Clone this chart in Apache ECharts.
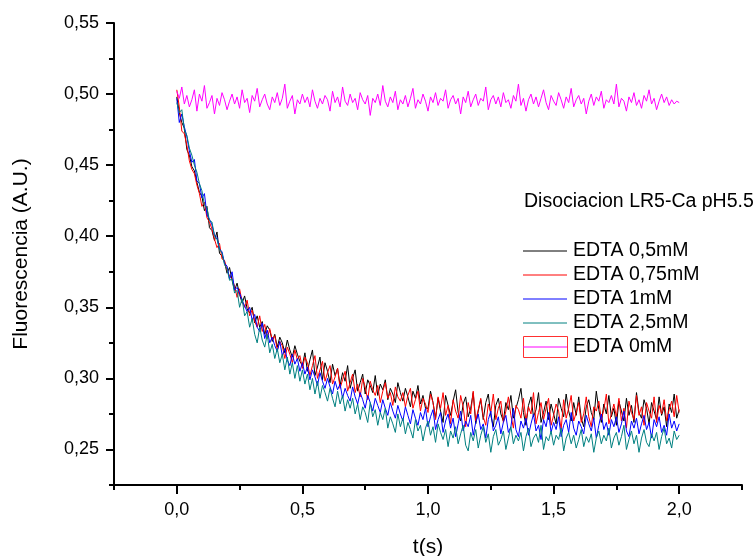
<!DOCTYPE html>
<html>
<head>
<meta charset="utf-8">
<script src="https://cdn.jsdelivr.net/npm/echarts@6/dist/echarts.min.js"></script>
<style>
  html, body { margin: 0; padding: 0; background: #ffffff; }
  #chart { width: 755px; height: 556px; }
</style>
</head>
<body>
<div id="chart"></div>
<script>
// Fluorescence traces sampled every TIME_STEP seconds, first sample at t = 0 s
const TIME_STEP = 0.01;

const seriesNames = ['EDTA 0,5mM', 'EDTA 0,75mM', 'EDTA 1mM', 'EDTA 2,5mM', 'EDTA 0mM'];
const seriesColors = ['#000000', '#ff0000', '#0000ff', '#008080', '#ff00ff'];

const edta05 = [
  0.498, 0.487, 0.480, 0.476, 0.461, 0.457, 0.449, 0.446, 0.438, 0.431,
  0.428, 0.418, 0.421, 0.406, 0.404, 0.397, 0.403, 0.388, 0.386, 0.382,
  0.374, 0.378, 0.369, 0.362, 0.367, 0.359, 0.353, 0.358, 0.349, 0.346,
  0.350, 0.339, 0.344, 0.336, 0.340, 0.331, 0.337, 0.334, 0.326, 0.331,
  0.322, 0.329, 0.325, 0.318, 0.327, 0.320, 0.315, 0.323, 0.317, 0.312,
  0.309, 0.318, 0.305, 0.313, 0.320, 0.302, 0.308, 0.315, 0.299, 0.311,
  0.305, 0.297, 0.310, 0.302, 0.307, 0.295, 0.304, 0.298, 0.309, 0.293,
  0.300, 0.306, 0.291, 0.297, 0.303, 0.289, 0.299, 0.295, 0.290, 0.302,
  0.288, 0.296, 0.292, 0.299, 0.285, 0.293, 0.289, 0.283, 0.297, 0.290,
  0.284, 0.293, 0.287, 0.280, 0.291, 0.286, 0.295, 0.282, 0.288, 0.279,
  0.279, 0.291, 0.283, 0.272, 0.286, 0.277, 0.269, 0.288, 0.281, 0.274,
  0.284, 0.292, 0.276, 0.270, 0.282, 0.287, 0.273, 0.279, 0.290, 0.268,
  0.277, 0.285, 0.271, 0.283, 0.289, 0.274, 0.266, 0.281, 0.286, 0.275,
  0.270, 0.283, 0.278, 0.288, 0.272, 0.279, 0.285, 0.293, 0.276, 0.267,
  0.281, 0.287, 0.273, 0.278, 0.290, 0.269, 0.276, 0.284, 0.271, 0.282,
  0.275, 0.268, 0.286, 0.279, 0.273, 0.289, 0.277, 0.270, 0.283, 0.274,
  0.287, 0.272, 0.266, 0.280, 0.285, 0.276, 0.271, 0.291, 0.278, 0.269,
  0.282, 0.275, 0.288, 0.273, 0.279, 0.267, 0.284, 0.277, 0.270, 0.286,
  0.274, 0.281, 0.269, 0.290, 0.276, 0.272, 0.285, 0.279, 0.268, 0.283,
  0.277, 0.271, 0.287, 0.274, 0.280, 0.266, 0.282, 0.276, 0.289, 0.272,
  0.278
];

const edta075 = [
  0.503, 0.491, 0.474, 0.472, 0.464, 0.453, 0.447, 0.444, 0.436, 0.430,
  0.421, 0.424, 0.413, 0.410, 0.405, 0.398, 0.392, 0.395, 0.384, 0.383,
  0.376, 0.372, 0.370, 0.365, 0.357, 0.363, 0.354, 0.350, 0.355, 0.344,
  0.348, 0.340, 0.336, 0.344, 0.333, 0.338, 0.328, 0.335, 0.327, 0.330,
  0.320, 0.326, 0.323, 0.314, 0.322, 0.317, 0.311, 0.320, 0.313, 0.316,
  0.307, 0.315, 0.311, 0.302, 0.309, 0.316, 0.300, 0.306, 0.312, 0.298,
  0.304, 0.309, 0.296, 0.301, 0.307, 0.293, 0.299, 0.305, 0.291, 0.297,
  0.303, 0.290, 0.296, 0.287, 0.300, 0.294, 0.285, 0.298, 0.292, 0.288,
  0.295, 0.283, 0.291, 0.297, 0.286, 0.290, 0.281, 0.294, 0.287, 0.284,
  0.290, 0.280, 0.288, 0.293, 0.279, 0.285, 0.291, 0.277, 0.286, 0.282,
  0.276, 0.289, 0.283, 0.271, 0.287, 0.279, 0.290, 0.274, 0.281, 0.268,
  0.285, 0.277, 0.272, 0.288, 0.280, 0.266, 0.283, 0.275, 0.291, 0.270,
  0.278, 0.286, 0.273, 0.267, 0.282, 0.276, 0.289, 0.271, 0.279, 0.284,
  0.269, 0.277, 0.287, 0.274, 0.265, 0.281, 0.278, 0.272, 0.286, 0.270,
  0.280, 0.275, 0.290, 0.268, 0.276, 0.283, 0.271, 0.279, 0.286, 0.267,
  0.274, 0.282, 0.277, 0.264, 0.285, 0.272, 0.279, 0.288, 0.270, 0.276,
  0.283, 0.269, 0.275, 0.287, 0.273, 0.266, 0.280, 0.277, 0.284, 0.271,
  0.278, 0.289, 0.268, 0.275, 0.282, 0.273, 0.286, 0.270, 0.279, 0.265,
  0.284, 0.276, 0.271, 0.288, 0.274, 0.280, 0.267, 0.283, 0.277, 0.272,
  0.287, 0.269, 0.281, 0.275, 0.285, 0.270, 0.278, 0.284, 0.273, 0.288,
  0.276
];

const edta1 = [
  0.497, 0.480, 0.486, 0.477, 0.470, 0.460, 0.452, 0.454, 0.439, 0.437,
  0.427, 0.430, 0.415, 0.412, 0.408, 0.401, 0.399, 0.391, 0.389, 0.381,
  0.379, 0.370, 0.375, 0.362, 0.364, 0.360, 0.355, 0.351, 0.347, 0.350,
  0.341, 0.345, 0.336, 0.333, 0.339, 0.328, 0.334, 0.325, 0.329, 0.323,
  0.319, 0.326, 0.316, 0.321, 0.313, 0.309, 0.317, 0.310, 0.314, 0.305,
  0.311, 0.303, 0.308, 0.299, 0.306, 0.301, 0.295, 0.304, 0.298, 0.293,
  0.300, 0.294, 0.289, 0.298, 0.292, 0.296, 0.286, 0.293, 0.288, 0.284,
  0.294, 0.287, 0.282, 0.290, 0.285, 0.279, 0.288, 0.283, 0.277, 0.286,
  0.281, 0.276, 0.285, 0.279, 0.274, 0.283, 0.277, 0.272, 0.281, 0.275,
  0.270, 0.280, 0.274, 0.268, 0.278, 0.272, 0.267, 0.276, 0.271, 0.279,
  0.266, 0.273, 0.278, 0.264, 0.271, 0.276, 0.262, 0.270, 0.275, 0.265,
  0.272, 0.259, 0.268, 0.277, 0.263, 0.270, 0.266, 0.274, 0.260, 0.269,
  0.275, 0.264, 0.268, 0.258, 0.271, 0.277, 0.263, 0.267, 0.273, 0.261,
  0.269, 0.274, 0.262, 0.266, 0.279, 0.264, 0.259, 0.270, 0.265, 0.272,
  0.260, 0.268, 0.275, 0.263, 0.267, 0.257, 0.271, 0.266, 0.276, 0.262,
  0.269, 0.264, 0.273, 0.259, 0.267, 0.271, 0.262, 0.276, 0.265, 0.260,
  0.270, 0.266, 0.261, 0.274, 0.268, 0.263, 0.272, 0.258, 0.267, 0.275,
  0.264, 0.269, 0.260, 0.271, 0.266, 0.273, 0.262, 0.268, 0.277, 0.263,
  0.259, 0.270, 0.265, 0.272, 0.261, 0.268, 0.274, 0.264, 0.269, 0.258,
  0.271, 0.266, 0.273, 0.262, 0.267, 0.260, 0.275, 0.265, 0.270, 0.263,
  0.268
];

const edta25 = [
  0.494, 0.487, 0.489, 0.475, 0.471, 0.462, 0.457, 0.450, 0.445, 0.437,
  0.432, 0.422, 0.420, 0.411, 0.410, 0.400, 0.398, 0.391, 0.388, 0.380,
  0.377, 0.369, 0.370, 0.360, 0.362, 0.350, 0.356, 0.344, 0.347, 0.336,
  0.342, 0.331, 0.325, 0.336, 0.327, 0.322, 0.331, 0.318, 0.324, 0.314,
  0.321, 0.311, 0.317, 0.306, 0.315, 0.303, 0.311, 0.300, 0.309, 0.298,
  0.306, 0.296, 0.303, 0.292, 0.300, 0.289, 0.298, 0.286, 0.295, 0.290,
  0.284, 0.293, 0.286, 0.280, 0.291, 0.282, 0.288, 0.277, 0.285, 0.279,
  0.286, 0.275, 0.282, 0.271, 0.280, 0.276, 0.269, 0.283, 0.273, 0.278,
  0.267, 0.276, 0.271, 0.279, 0.265, 0.273, 0.268, 0.262, 0.275, 0.266,
  0.272, 0.261, 0.269, 0.264, 0.258, 0.271, 0.263, 0.267, 0.256, 0.265,
  0.270, 0.260, 0.266, 0.255, 0.268, 0.262, 0.257, 0.264, 0.252, 0.263,
  0.258, 0.266, 0.254, 0.261, 0.267, 0.253, 0.249, 0.262, 0.256, 0.264,
  0.251, 0.260, 0.266, 0.255, 0.261, 0.248, 0.259, 0.264, 0.253, 0.257,
  0.263, 0.250, 0.258, 0.266, 0.254, 0.260, 0.256, 0.262, 0.249, 0.259,
  0.265, 0.252, 0.258, 0.261, 0.255, 0.267, 0.250, 0.259, 0.256, 0.263,
  0.253, 0.260, 0.257, 0.265, 0.249, 0.258, 0.262, 0.254, 0.260, 0.251,
  0.257, 0.264, 0.252, 0.259, 0.255, 0.261, 0.248, 0.258, 0.263, 0.254,
  0.260, 0.256, 0.265, 0.251, 0.258, 0.262, 0.253, 0.259, 0.267, 0.250,
  0.257, 0.263, 0.254, 0.260, 0.248, 0.258, 0.264, 0.255, 0.252, 0.261,
  0.256, 0.262, 0.250, 0.259, 0.265, 0.254, 0.258, 0.251, 0.263, 0.257,
  0.260
];

const edta0 = [
  0.502, 0.497, 0.505, 0.493, 0.499, 0.491, 0.496, 0.503, 0.488, 0.500,
  0.495, 0.506, 0.490, 0.494, 0.499, 0.486, 0.497, 0.492, 0.501, 0.496,
  0.489, 0.495, 0.500, 0.493, 0.498, 0.490, 0.503, 0.494, 0.497, 0.487,
  0.499, 0.495, 0.504, 0.491, 0.496, 0.500, 0.493, 0.489, 0.498, 0.494,
  0.501, 0.492, 0.497, 0.507, 0.490, 0.495, 0.499, 0.486, 0.496, 0.493,
  0.500, 0.494, 0.498, 0.491, 0.503, 0.495, 0.490, 0.497, 0.493, 0.499,
  0.496, 0.488, 0.502, 0.494, 0.498, 0.491, 0.505, 0.495, 0.492, 0.500,
  0.494, 0.497, 0.489, 0.501, 0.496, 0.493, 0.499, 0.485, 0.497, 0.494,
  0.500, 0.492, 0.506, 0.495, 0.491, 0.498, 0.494, 0.502, 0.489, 0.496,
  0.493, 0.499, 0.491, 0.497, 0.504, 0.490, 0.496, 0.493, 0.500, 0.495,
  0.488, 0.498, 0.494, 0.501, 0.492, 0.497, 0.495, 0.503, 0.490, 0.496,
  0.499, 0.493, 0.497, 0.486, 0.498, 0.494, 0.502, 0.491, 0.496, 0.500,
  0.492, 0.497, 0.495, 0.505, 0.489, 0.496, 0.499, 0.493, 0.498, 0.491,
  0.501, 0.494, 0.496, 0.490, 0.499, 0.495, 0.507, 0.492, 0.497, 0.488,
  0.496, 0.500, 0.493, 0.498, 0.491, 0.497, 0.503, 0.494, 0.489, 0.499,
  0.495, 0.492, 0.501, 0.496, 0.490, 0.498, 0.494, 0.504, 0.491, 0.496,
  0.499, 0.493, 0.497, 0.486, 0.495, 0.500, 0.492, 0.498, 0.495, 0.502,
  0.490, 0.496, 0.494, 0.499, 0.493, 0.507, 0.491, 0.497, 0.495, 0.488,
  0.498, 0.494, 0.501, 0.492, 0.496, 0.490, 0.499, 0.495, 0.503, 0.493,
  0.497, 0.489, 0.495, 0.500, 0.494, 0.498, 0.492, 0.496, 0.493, 0.495,
  0.494
];

const xMajorTicks = [0, 0.5, 1.0, 1.5, 2.0];
const xMinorTicks = [-0.25, 0.25, 0.75, 1.25, 1.75, 2.25];
const yMajorTicks = [0.25, 0.30, 0.35, 0.40, 0.45, 0.50, 0.55];
const yMinorTicks = [0.225, 0.275, 0.325, 0.375, 0.425, 0.475, 0.525];

const legendTitle = 'Disociacion LR5-Ca pH5.5';
const xTitle = 't(s)';
const yTitle = 'Fluorescencia (A.U.)';

const FONT = '"Liberation Sans", Arial, Helvetica, sans-serif';
const traces = [edta05, edta075, edta1, edta25, edta0];

function toPairs(values) {
  return values.map((v, i) => [Number((i * TIME_STEP).toFixed(2)), v]);
}

const decimalComma = (digits) => (v) => v.toFixed(digits).replace('.', ',');

const axisBlack = { color: '#000000', width: 2 };

const chart = echarts.init(document.getElementById('chart'), null, { renderer: 'canvas' });

// Legend block drawn by hand: title, four line keys and a boxed key for the control trace
const legendX = 523, legendTextX = 573, legendLineEnd = 567;
const legendRows = [251, 275, 299, 323, 347];
const legendFont = '19.5px ' + FONT;
const legendGraphics = [
  { type: 'text', x: legendX + 1, y: 202,
    style: { text: legendTitle, font: legendFont, fill: '#000000', textVerticalAlign: 'middle' } }
];
seriesNames.forEach((name, k) => {
  const y = legendRows[k];
  if (k === 4) {
    legendGraphics.push({ type: 'rect', shape: { x: legendX + 0.5, y: y - 10.5, width: 44, height: 21 },
      style: { fill: 'none', stroke: '#ff3030', lineWidth: 1 } });
  }
  legendGraphics.push({ type: 'line', shape: { x1: legendX, y1: y, x2: legendLineEnd, y2: y },
    style: { stroke: seriesColors[k], lineWidth: 1 } });
  legendGraphics.push({ type: 'text', x: legendTextX, y: y,
    style: { text: name, font: legendFont, fill: '#000000', textVerticalAlign: 'middle' } });
});

const option = {
  animation: false,
  backgroundColor: '#ffffff',
  grid: { left: 114, right: 13, top: 23, bottom: 71, containLabel: false, outerBoundsMode: 'none' },
  xAxis: [
    {
      type: 'value', position: 'bottom', min: -0.25, max: 2.25,
      name: xTitle, nameLocation: 'middle', nameGap: 52,
      nameTextStyle: { fontFamily: FONT, fontSize: 21, color: '#000000' },
      axisLine: { show: true, onZero: false, lineStyle: axisBlack },
      axisTick: { show: true, length: 9, lineStyle: axisBlack, customValues: xMajorTicks },
      axisLabel: { show: true, margin: 16, fontFamily: FONT, fontSize: 18, color: '#000000',
        customValues: xMajorTicks, formatter: decimalComma(1) },
      splitLine: { show: false }
    },
    {
      type: 'value', position: 'bottom', min: -0.25, max: 2.25,
      axisLine: { show: false, onZero: false },
      axisTick: { show: true, length: 5, lineStyle: axisBlack, customValues: xMinorTicks },
      axisLabel: { show: false },
      splitLine: { show: false }
    }
  ],
  yAxis: [
    {
      type: 'value', position: 'left', min: 0.225, max: 0.55,
      name: yTitle, nameLocation: 'middle', nameGap: 82, nameRotate: 90,
      nameTextStyle: { fontFamily: FONT, fontSize: 21, color: '#000000' },
      axisLine: { show: true, onZero: false, lineStyle: axisBlack },
      axisTick: { show: true, length: 8, lineStyle: axisBlack, customValues: yMajorTicks },
      axisLabel: { show: true, margin: 15, fontFamily: FONT, fontSize: 18, color: '#000000',
        customValues: yMajorTicks, formatter: decimalComma(2) },
      splitLine: { show: false }
    },
    {
      type: 'value', position: 'left', min: 0.225, max: 0.55,
      axisLine: { show: false, onZero: false },
      axisTick: { show: true, length: 5, lineStyle: axisBlack, customValues: yMinorTicks },
      axisLabel: { show: false },
      splitLine: { show: false }
    }
  ],
  series: traces.map((values, k) => ({
    name: seriesNames[k],
    type: 'line',
    xAxisIndex: 0,
    yAxisIndex: 0,
    data: toPairs(values),
    showSymbol: false,
    symbol: 'none',
    smooth: false,
    lineStyle: { color: seriesColors[k], width: 1 },
    itemStyle: { color: seriesColors[k] },
    emphasis: { disabled: true },
    z: 2 + k
  })),
  graphic: legendGraphics
};

chart.setOption(option);
</script>
</body>
</html>
